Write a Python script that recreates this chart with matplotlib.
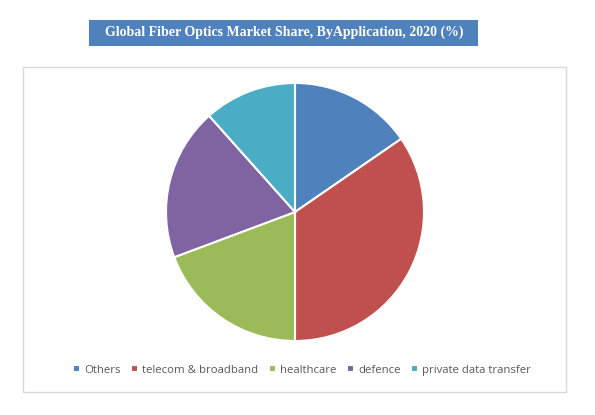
import matplotlib.pyplot as plt
from matplotlib.patches import Rectangle

# data
labels = ["Others", "telecom & broadband", "healthcare", "defence", "private data transfer"]
shares = [15.4, 34.6, 19.3, 19.1, 11.6]
colors = ["#4F81BD", "#C0504D", "#9BBB59", "#8064A2", "#4BACC6"]
title = "Global Fiber Optics Market Share, ByApplication, 2020 (%)"

W, H = 595, 415
fig = plt.figure(figsize=(W / 100, H / 100), dpi=100)
fig.patch.set_facecolor("white")

# title box
fig.patches.append(Rectangle((89 / W, 1 - 46 / H), (478 - 89) / W, 26 / H,
                             transform=fig.transFigure, facecolor="#4F81BD",
                             edgecolor="none"))
fig.text(284 / W, 1 - 32 / H, title, ha="center", va="center", color="white",
         fontsize=10, fontweight="bold", family="Liberation Serif")

# chart area border
fig.patches.append(Rectangle((23 / W, 1 - 392 / H), (566 - 23) / W, (392 - 67) / H,
                             transform=fig.transFigure, facecolor="none",
                             edgecolor="#D9D9D9", linewidth=1))

# pie
cx, cy, r = 295, 212, 129
ax = fig.add_axes([(cx - r) / W, 1 - (cy + r) / H, 2 * r / W, 2 * r / H])
wedges, _ = ax.pie(shares, colors=colors, startangle=90, counterclock=False,
                   wedgeprops=dict(edgecolor="white", linewidth=1.5))
ax.set_xlim(-1, 1)
ax.set_ylim(-1, 1)
ax.set_aspect("equal")

leg = fig.legend(wedges, labels, loc="center", bbox_to_anchor=(302 / W, 1 - 370 / H),
                 ncol=5, frameon=False, handlelength=0.6, handleheight=0.6,
                 handletextpad=0.4, columnspacing=0.9, prop={"family": "Open Sans", "size": 8.2})
for t in leg.get_texts():
    t.set_color("#595959")

fig.savefig("out.png", dpi=100)
